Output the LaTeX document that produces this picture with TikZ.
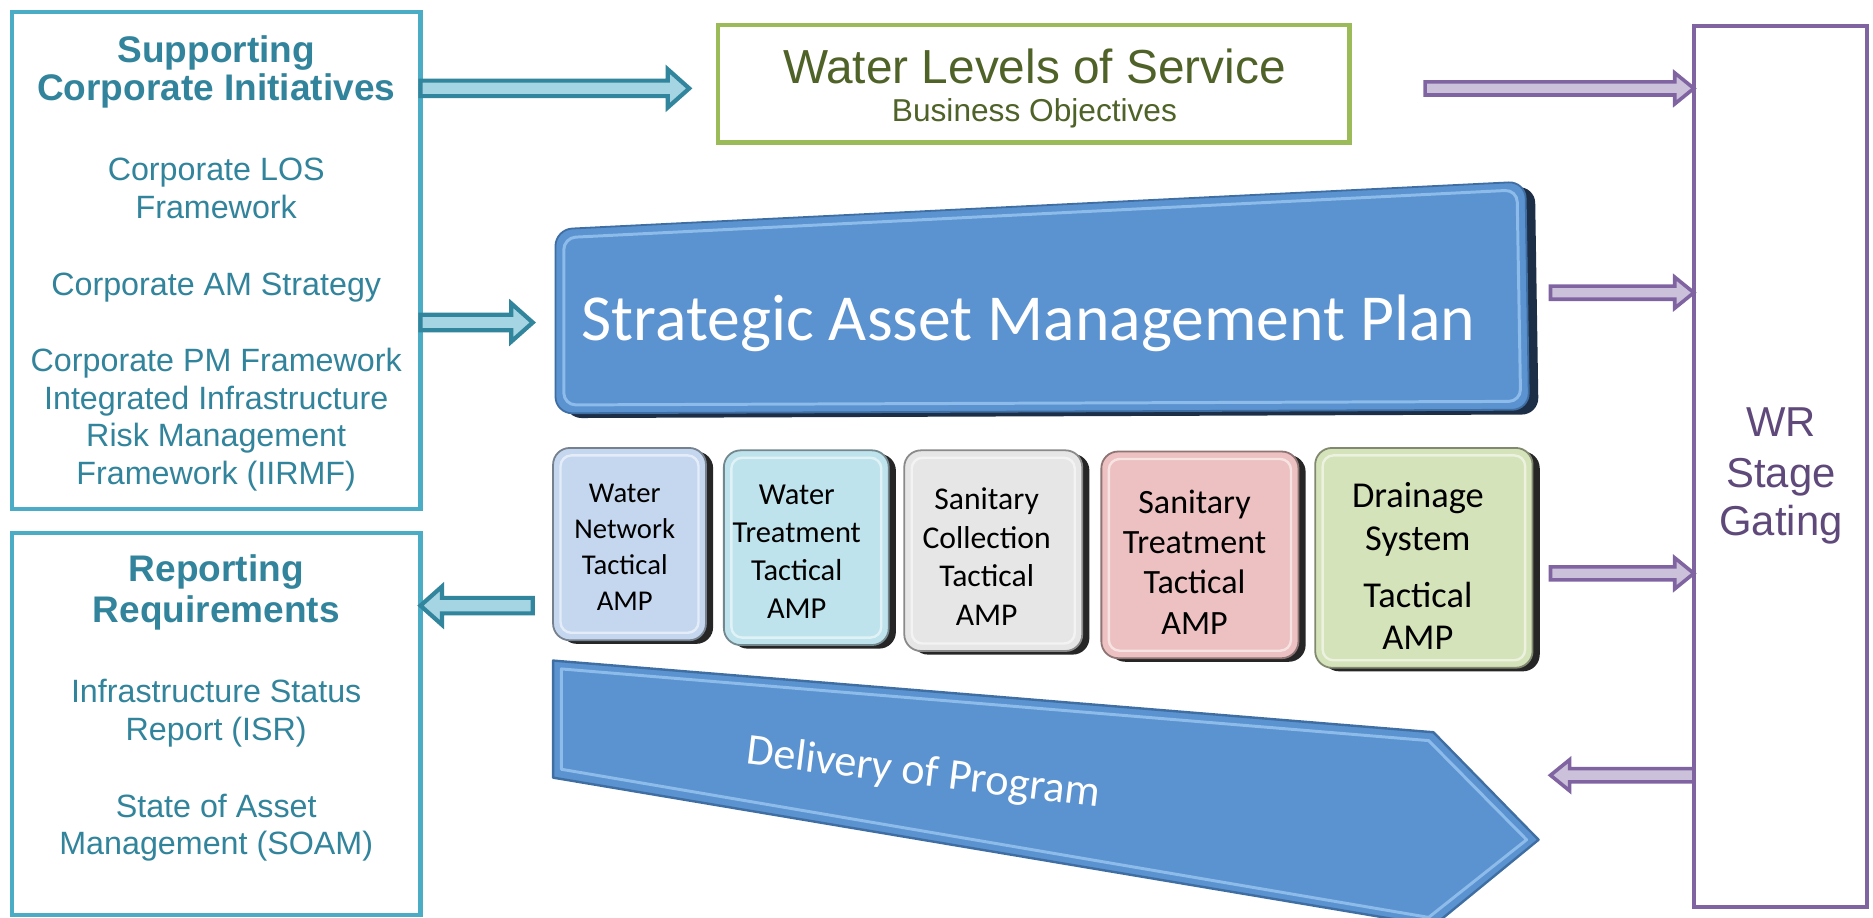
\documentclass[tikz,border=0pt]{standalone}
\usepackage{fontspec}
\setmainfont{Liberation Sans}
\newfontfamily\calfont{Carlito}
\usetikzlibrary{calc,shadows}
\definecolor{tealtxt}{HTML}{31849B}
\definecolor{tealbd}{HTML}{4BACC6}
\definecolor{tealarrow}{HTML}{31859C}
\definecolor{tealfill}{HTML}{A5D5E2}
\definecolor{grn}{HTML}{9BBB59}
\definecolor{olive}{HTML}{4F6228}
\definecolor{purp}{HTML}{8064A2}
\definecolor{purpfill}{HTML}{CCC1DA}
\definecolor{purptxt}{HTML}{5F497A}
\definecolor{blueface}{HTML}{5B92D0}
\definecolor{blueedge}{HTML}{3F6EA3}
\definecolor{bluelight}{HTML}{8DBBEA}
\definecolor{bluedark}{HTML}{1D2F47}
\definecolor{tacA}{HTML}{C5D7EE}
\definecolor{tacB}{HTML}{BEE3EC}
\definecolor{tacC}{HTML}{E6E6E6}
\definecolor{tacD}{HTML}{EDC1C1}
\definecolor{tacE}{HTML}{D5E3BA}
% block arrow: style, from, to, shaft half height, head half height, head length
\newcommand\blockarrow[6]{%
  \path[#1] let \p1=(#2), \p2=(#3), \n1={ifthenelse(\x2>\x1,1,-1)}, \n2={\x2-#6*(\n1)} in
    (\x1,{\y1+#4}) -- (\n2,{\y1+#4}) -- (\n2,{\y1+#5}) -- (\x2,\y1)
    -- (\n2,{\y1-#5}) -- (\n2,{\y1-#4}) -- (\x1,{\y1-#4}) -- cycle;}
\begin{document}
\begin{tikzpicture}[x=1pt,y=-1pt,
  framebox/.style={inner sep=0pt, outer sep=0pt},
  tealtitle/.style={anchor=base, text=tealtxt, font=\bfseries\fontsize{31}{34}\selectfont},
  tealbody/.style={anchor=base, text=tealtxt, font=\fontsize{27}{32}\selectfont},
  tealarr/.style={draw=tealarrow, fill=tealfill, line width=3.5pt, line join=miter},
  purparr/.style={draw=purp, fill=purpfill, line width=3pt, line join=miter},
  tac/.style={rounded corners=14pt, line width=1.5pt, inner sep=0pt,
    drop shadow={shadow xshift=6pt, shadow yshift=-3pt, fill=black, opacity=0.85}},
  tactext/.style={align=center, inner sep=0pt, text=black},
  bevel/.style={white, opacity=0.55, line width=2pt, rounded corners=9pt}]
\useasboundingbox (0,0) rectangle (1568,768);
\fill[white] (0,0) rectangle (1568,768);

% ---------- left boxes ----------
\node[framebox, draw=tealbd, line width=3.5pt, minimum width=342pt, minimum height=416pt] (sci) at (181,218) {};
\node[tealtitle] (sci-t1) at (181,52) {Supporting};
\node[tealtitle] (sci-t2) at (181,84) {Corporate Initiatives};
\foreach \t/\yy [count=\i] in {Corporate LOS/151, Framework/183, Corporate AM Strategy/247,
   Corporate PM Framework/311, Integrated Infrastructure/343, Risk Management/374,
   Framework (IIRMF)/406}
  \node[tealbody] (sci-b\i) at (181,\yy) {\t};

\node[framebox, draw=tealbd, line width=3.5pt, minimum width=342pt, minimum height=320pt] (rr) at (181,606) {};
\node[tealtitle] (rr-t1) at (181,487) {Reporting};
\node[tealtitle] (rr-t2) at (181,521) {Requirements};
\foreach \t/\yy [count=\i] in {Infrastructure Status/588, Report (ISR)/620,
   State of Asset/684, Management (SOAM)/715}
  \node[tealbody] (rr-b\i) at (181,\yy) {\t};

% ---------- top box ----------
\node[framebox, draw=grn, line width=4pt, minimum width=529pt, minimum height=98pt] (wlos) at (865.5,70) {};
\node[anchor=base, text=olive, font=\fontsize{40}{48}\selectfont] (wlos-t) at (866,70) {Water Levels of Service};
\node[anchor=base, text=olive, font=\fontsize{26.5}{32}\selectfont] (wlos-s) at (866,102) {Business Objectives};

% ---------- right box ----------
\node[framebox, draw=purp, line width=3.5pt, minimum width=145pt, minimum height=737pt] (wr) at (1490.5,390.5) {};
\foreach \t/\yy [count=\i] in {WR/365, Stage/408, Gating/448}
  \node[anchor=base, text=purptxt, font=\fontsize{35}{42}\selectfont] (wr-\i) at (1491,\yy) {\t};

% ---------- strategic plan ----------
\coordinate (s1) at (465,192);
\coordinate (s2) at (1277,152);
\coordinate (s3) at (1280,343);
\coordinate (s4) at (465,346);
\fill[bluedark, rounded corners=14pt] ([shift={(8,4)}]s1) -- ([shift={(8,4)}]s2) -- ([shift={(8,4)}]s3) -- ([shift={(8,4)}]s4) -- cycle;
\filldraw[fill=blueface, draw=blueedge, line width=1.5pt, rounded corners=14pt] (s1) -- (s2) -- (s3) -- (s4) -- cycle;
\draw[bluelight, line width=2.5pt, rounded corners=10pt] ([shift={(7,7)}]s1) -- ([shift={(-7,7)}]s2) -- ([shift={(-7,-7)}]s3) -- ([shift={(7,-7)}]s4) -- cycle;
\node[anchor=base, text=white, font=\calfont\fontsize{55}{66}\selectfont] (sam) at (861,285) {Strategic Asset Management Plan};

% ---------- tactical AMPs ----------
\node[tac, fill=tacA, draw=tacA!60!black, minimum width=128pt, minimum height=161pt] (tac1) at (527,455.5) {};
\node[tac, fill=tacB, draw=tacB!60!black, minimum width=138pt, minimum height=163pt] (tac2) at (675,458.5) {};
\node[tac, fill=tacC, draw=tacC!60!black, minimum width=149pt, minimum height=168pt] (tac3) at (831.5,461) {};
\node[tac, fill=tacD, draw=tacD!60!black, minimum width=165pt, minimum height=173pt] (tac4) at (1004.5,464.5) {};
\node[tac, fill=tacE, draw=tacE!60!black, minimum width=182pt, minimum height=184pt] (tac5) at (1192,467) {};
\foreach \b in {tac1,tac2,tac3,tac4,tac5}
  \draw[bevel] ([shift={(7,7)}]\b.north west) rectangle ([shift={(-7,-7)}]\b.south east);
\node[tactext, font=\calfont\fontsize{24}{30}\selectfont] (tac1-t) at (523,458) {Water\\Network\\Tactical\\AMP};
\node[tactext, font=\calfont\fontsize{25.5}{31.7}\selectfont] (tac2-t) at (667,462) {Water\\Treatment\\Tactical\\AMP};
\node[tactext, font=\calfont\fontsize{26.5}{32.3}\selectfont] (tac3-t) at (826,466) {Sanitary\\Collection\\Tactical\\AMP};
\node[tactext, font=\calfont\fontsize{28.5}{33.7}\selectfont] (tac4-t) at (1000,470.5) {Sanitary\\Treatment\\Tactical\\AMP};
\node[tactext, font=\calfont\fontsize{30.5}{35.5}\selectfont] (tac5-t) at (1187,474) {Drainage\\System\\[12pt]Tactical\\AMP};

% ---------- delivery of program ----------
\coordinate (d1) at (463,553);
\coordinate (d2) at (1200,613);
\coordinate (d3) at (1288,703);
\coordinate (d4) at (1200,775);
\coordinate (d5) at (463,651);
\filldraw[fill=blueface, draw=blueedge, line width=2pt, line join=round] (d1) -- (d2) -- (d3) -- (d4) -- (d5) -- cycle;
\draw[bluelight, line width=2.5pt, line join=round] ([shift={(7,7)}]d1) -- ([shift={(-4,7)}]d2) -- ([shift={(-10,0)}]d3) -- ([shift={(-4,-7)}]d4) -- ([shift={(7,-7)}]d5) -- cycle;
\node[rotate=-7, text=white, font=\calfont\fontsize{37}{44}\selectfont] (dop) at (773,648) {Delivery of Program};

% ---------- connectors ----------
\coordinate (ta1) at (577,74);
\coordinate (ta2) at (446,270);
\coordinate (ta3) at (446,507);
\blockarrow{tealarr}{sci.east |- ta1}{ta1}{6.5pt}{16pt}{18pt}
\blockarrow{tealarr}{sci.east |- ta2}{ta2}{6.5pt}{16pt}{18pt}
\blockarrow{tealarr}{ta3}{rr.east |- ta3}{6.5pt}{16pt}{18pt}

\coordinate (pa1) at (1193,74);
\coordinate (pa2) at (1298,245);
\coordinate (pa3) at (1298,480);
\coordinate (pa4) at (1298,649);
\blockarrow{purparr}{pa1}{wr.west |- pa1}{5.5pt}{13pt}{16pt}
\blockarrow{purparr}{pa2}{wr.west |- pa2}{5.5pt}{13pt}{16pt}
\blockarrow{purparr}{pa3}{wr.west |- pa3}{5.5pt}{13pt}{16pt}
\blockarrow{purparr}{wr.west |- pa4}{pa4}{5.5pt}{13pt}{16pt}
\end{tikzpicture}
\end{document}
